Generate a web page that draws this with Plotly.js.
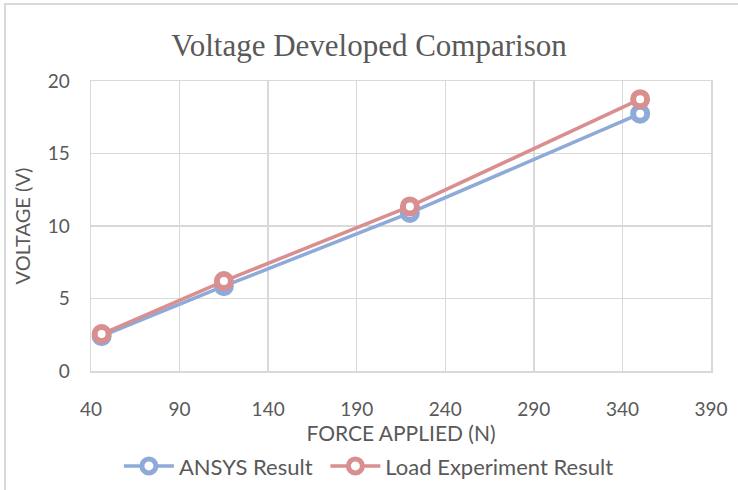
<!DOCTYPE html>
<html>
<head>
<meta charset="utf-8">
<script src="https://cdn.plot.ly/plotly-3.0.1.min.js"></script>
<style>
html,body{margin:0;padding:0;background:#fff;}
#frame{position:absolute;left:4px;top:3px;width:800px;height:600px;border:2px solid #d9d9d9;box-sizing:border-box;}
#chart{position:absolute;left:0;top:0;width:738px;height:490px;}
</style>
</head>
<body>
<div id="frame"></div>
<div id="chart"></div>
<script>
const forceApplied = [46, 115, 220, 350];
const ansysVoltage = [2.4, 5.85, 10.9, 17.75];
const loadExperimentVoltage = [2.55, 6.2, 11.35, 18.75];
const xTicks = [40, 90, 140, 190, 240, 290, 340, 390];
const yTicks = [0, 5, 10, 15, 20];

const blue = '#8eaad8';
const red = '#d98f8f';
const font = 'Lato, "Open Sans", sans-serif';

const traces = [
  {
    x: forceApplied, y: ansysVoltage, name: 'ANSYS Result', legend: 'legend',
    mode: 'lines+markers', type: 'scatter',
    line: {color: blue, width: 3.5},
    marker: {symbol: 'circle', size: 14, color: '#ffffff', line: {color: blue, width: 6}}
  },
  {
    x: forceApplied, y: loadExperimentVoltage, name: 'Load Experiment Result', legend: 'legend2',
    mode: 'lines+markers', type: 'scatter',
    line: {color: red, width: 3.5},
    marker: {symbol: 'circle', size: 14, color: '#ffffff', line: {color: red, width: 6}}
  }
];

const legendStyle = {
  orientation: 'h', xanchor: 'left', y: -0.328, yanchor: 'middle',
  font: {family: font, size: 22, color: '#595959'},
  itemwidth: 50, bgcolor: 'rgba(0,0,0,0)'
};

const layout = {
  width: 738, height: 490,
  margin: {l: 91, r: 27, t: 81, b: 119, autoexpand: false},
  paper_bgcolor: 'rgba(0,0,0,0)',
  plot_bgcolor: '#ffffff',
  title: {
    text: 'Voltage Developed Comparison',
    font: {family: '"Liberation Serif", "DejaVu Serif", serif', size: 31, color: '#595959'},
    x: 0.5, xanchor: 'center', y: 0.908, yanchor: 'middle'
  },
  xaxis: {
    range: [40, 390], tickvals: xTicks, ticktext: xTicks.map(String),
    showgrid: true, gridcolor: '#d9d9d9', gridwidth: 1.3,
    showline: true, linecolor: '#d9d9d9', linewidth: 1.5, mirror: true,
    zeroline: false, ticks: '', ticklabelstandoff: 21, automargin: false,
    tickfont: {family: font, size: 19, color: '#595959'},
    title: {text: 'FORCE APPLIED (N)', font: {family: font, size: 21, color: '#595959'}, standoff: 3}
  },
  yaxis: {
    range: [0, 20], tickvals: yTicks, ticktext: yTicks.map(String),
    showgrid: true, gridcolor: '#d9d9d9', gridwidth: 1.3,
    showline: true, linecolor: '#d9d9d9', linewidth: 1.5, mirror: true,
    zeroline: false, ticks: '', ticklabelstandoff: 16, automargin: false,
    tickfont: {family: font, size: 19, color: '#595959'},
    title: {text: 'VOLTAGE (V)', font: {family: font, size: 20, color: '#595959'}, standoff: 11}
  },
  showlegend: true,
  legend: Object.assign({}, legendStyle, {x: 0.045}),
  legend2: Object.assign({}, legendStyle, {x: 0.378})
};

Plotly.newPlot('chart', traces, layout, {displayModeBar: false, staticPlot: true});
</script>
</body>
</html>
